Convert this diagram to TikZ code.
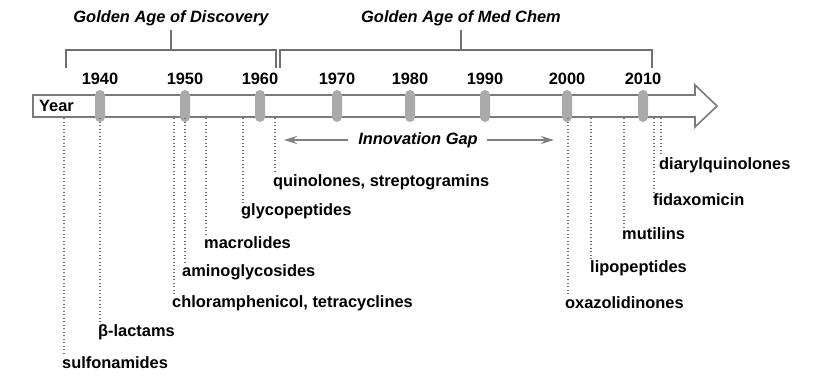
\documentclass[tikz,border=0pt]{standalone}
\usepackage{fontspec}
\setmainfont{Liberation Sans}
\usepackage{tikz}
\usetikzlibrary{arrows.meta}
\newcommand{\figsize}{\fontsize{16.4}{19}\selectfont}
\definecolor{barline}{HTML}{7A7A7A}
\definecolor{pillgray}{HTML}{AAAAAA}
\definecolor{dropgray}{HTML}{6E6E6E}
\definecolor{bracketgray}{HTML}{707070}
\definecolor{gapgray}{HTML}{7F7F7F}
\tikzstyle{timebar} = [draw=barline, fill=white, line width=1.6pt, line join=miter]
\tikzstyle{yearpill} = [fill=pillgray, rectangle, rounded corners=5pt, minimum width=10pt, minimum height=32pt, inner sep=0pt]
\tikzstyle{yearlabel} = [font=\figsize\bfseries, inner sep=0pt]
\tikzstyle{classlabel} = [font=\figsize\bfseries, anchor=west, inner sep=1pt]
\tikzstyle{drop} = [draw=dropgray, line width=1.3pt, dash pattern=on 1.3pt off 2.2pt]
\tikzstyle{agebracket} = [draw=bracketgray, line width=1.5pt]
\tikzstyle{agetitle} = [font=\figsize\bfseries\itshape, inner sep=0pt]
\tikzstyle{gaparrow} = [draw=gapgray, line width=2pt, -{Stealth[length=13pt,width=8pt]}]

\begin{document}
\begin{tikzpicture}[x=1pt, y=-1pt]
\useasboundingbox (0,0) rectangle (825,384);

% the time bar
\draw[timebar] (33,95) -- (695,95) -- (695,85) -- (717,106) -- (695,127) -- (695,117) -- (33,117) -- cycle;
\node[font=\figsize\bfseries, anchor=west, inner sep=0pt] (yearword) at (39,106) {Year};

% decades
\foreach \yr/\xx in {1940/100, 1950/185, 1960/260, 1970/337, 1980/410, 1990/485, 2000/567, 2010/643}{
  \node[yearpill] (p\yr) at (\xx,106) {};
  \node[yearlabel] (y\yr) at (\xx,79) {\yr};
}

% golden ages
\node[agetitle] (discovery) at (171,18) {Golden Age of Discovery};
\node[agetitle] (medchem) at (461,18) {Golden Age of Med Chem};
\coordinate (dstem) at (171,30);
\coordinate (mstem) at (461,30);
\draw[agebracket] (66,68) |- (276,50) -- (276,68);
\draw[agebracket] (dstem) -- (dstem |- 0,50);
\draw[agebracket] (280,68) |- (652,50) -- (652,68);
\draw[agebracket] (mstem) -- (mstem |- 0,50);

% innovation gap
\node[agetitle] (gap) at (418,140) {Innovation Gap};
\coordinate (gapleft) at (284,140);
\coordinate (gapright) at (554,140);
\draw[gaparrow] (gap.west) ++(-10,0) -- (gapleft);
\draw[gaparrow] (gap.east) ++(9,0) -- (gapright);

% antibiotic classes
\node[classlabel] (sulfa) at (61,363) {sulfonamides};
\node[classlabel] (lactam) at (97,332) {β-lactams};
\node[classlabel] (chloram) at (171,303) {chloramphenicol, tetracyclines};
\node[classlabel] (amino) at (181,272) {aminoglycosides};
\node[classlabel] (macro) at (203,243) {macrolides};
\node[classlabel] (glyco) at (240,211) {glycopeptides};
\node[classlabel] (quino) at (272,182) {quinolones, streptogramins};
\node[classlabel] (oxa) at (564,303) {oxazolidinones};
\node[classlabel] (lipo) at (589,268) {lipopeptides};
\node[classlabel] (muti) at (621,234) {mutilins};
\node[classlabel] (fidax) at (652,200) {fidaxomicin};
\node[classlabel] (diaryl) at (658,165) {diarylquinolones};

\foreach \cls/\xx in {sulfa/64, lactam/100, chloram/174, amino/185, macro/206, glyco/243, quino/275, oxa/568, lipo/591, muti/624, fidax/654, diaryl/661}{
  \coordinate (t\cls) at (\xx,118);
  \draw[drop] (t\cls) -- (t\cls |- \cls.north);
}
\end{tikzpicture}
\end{document}
